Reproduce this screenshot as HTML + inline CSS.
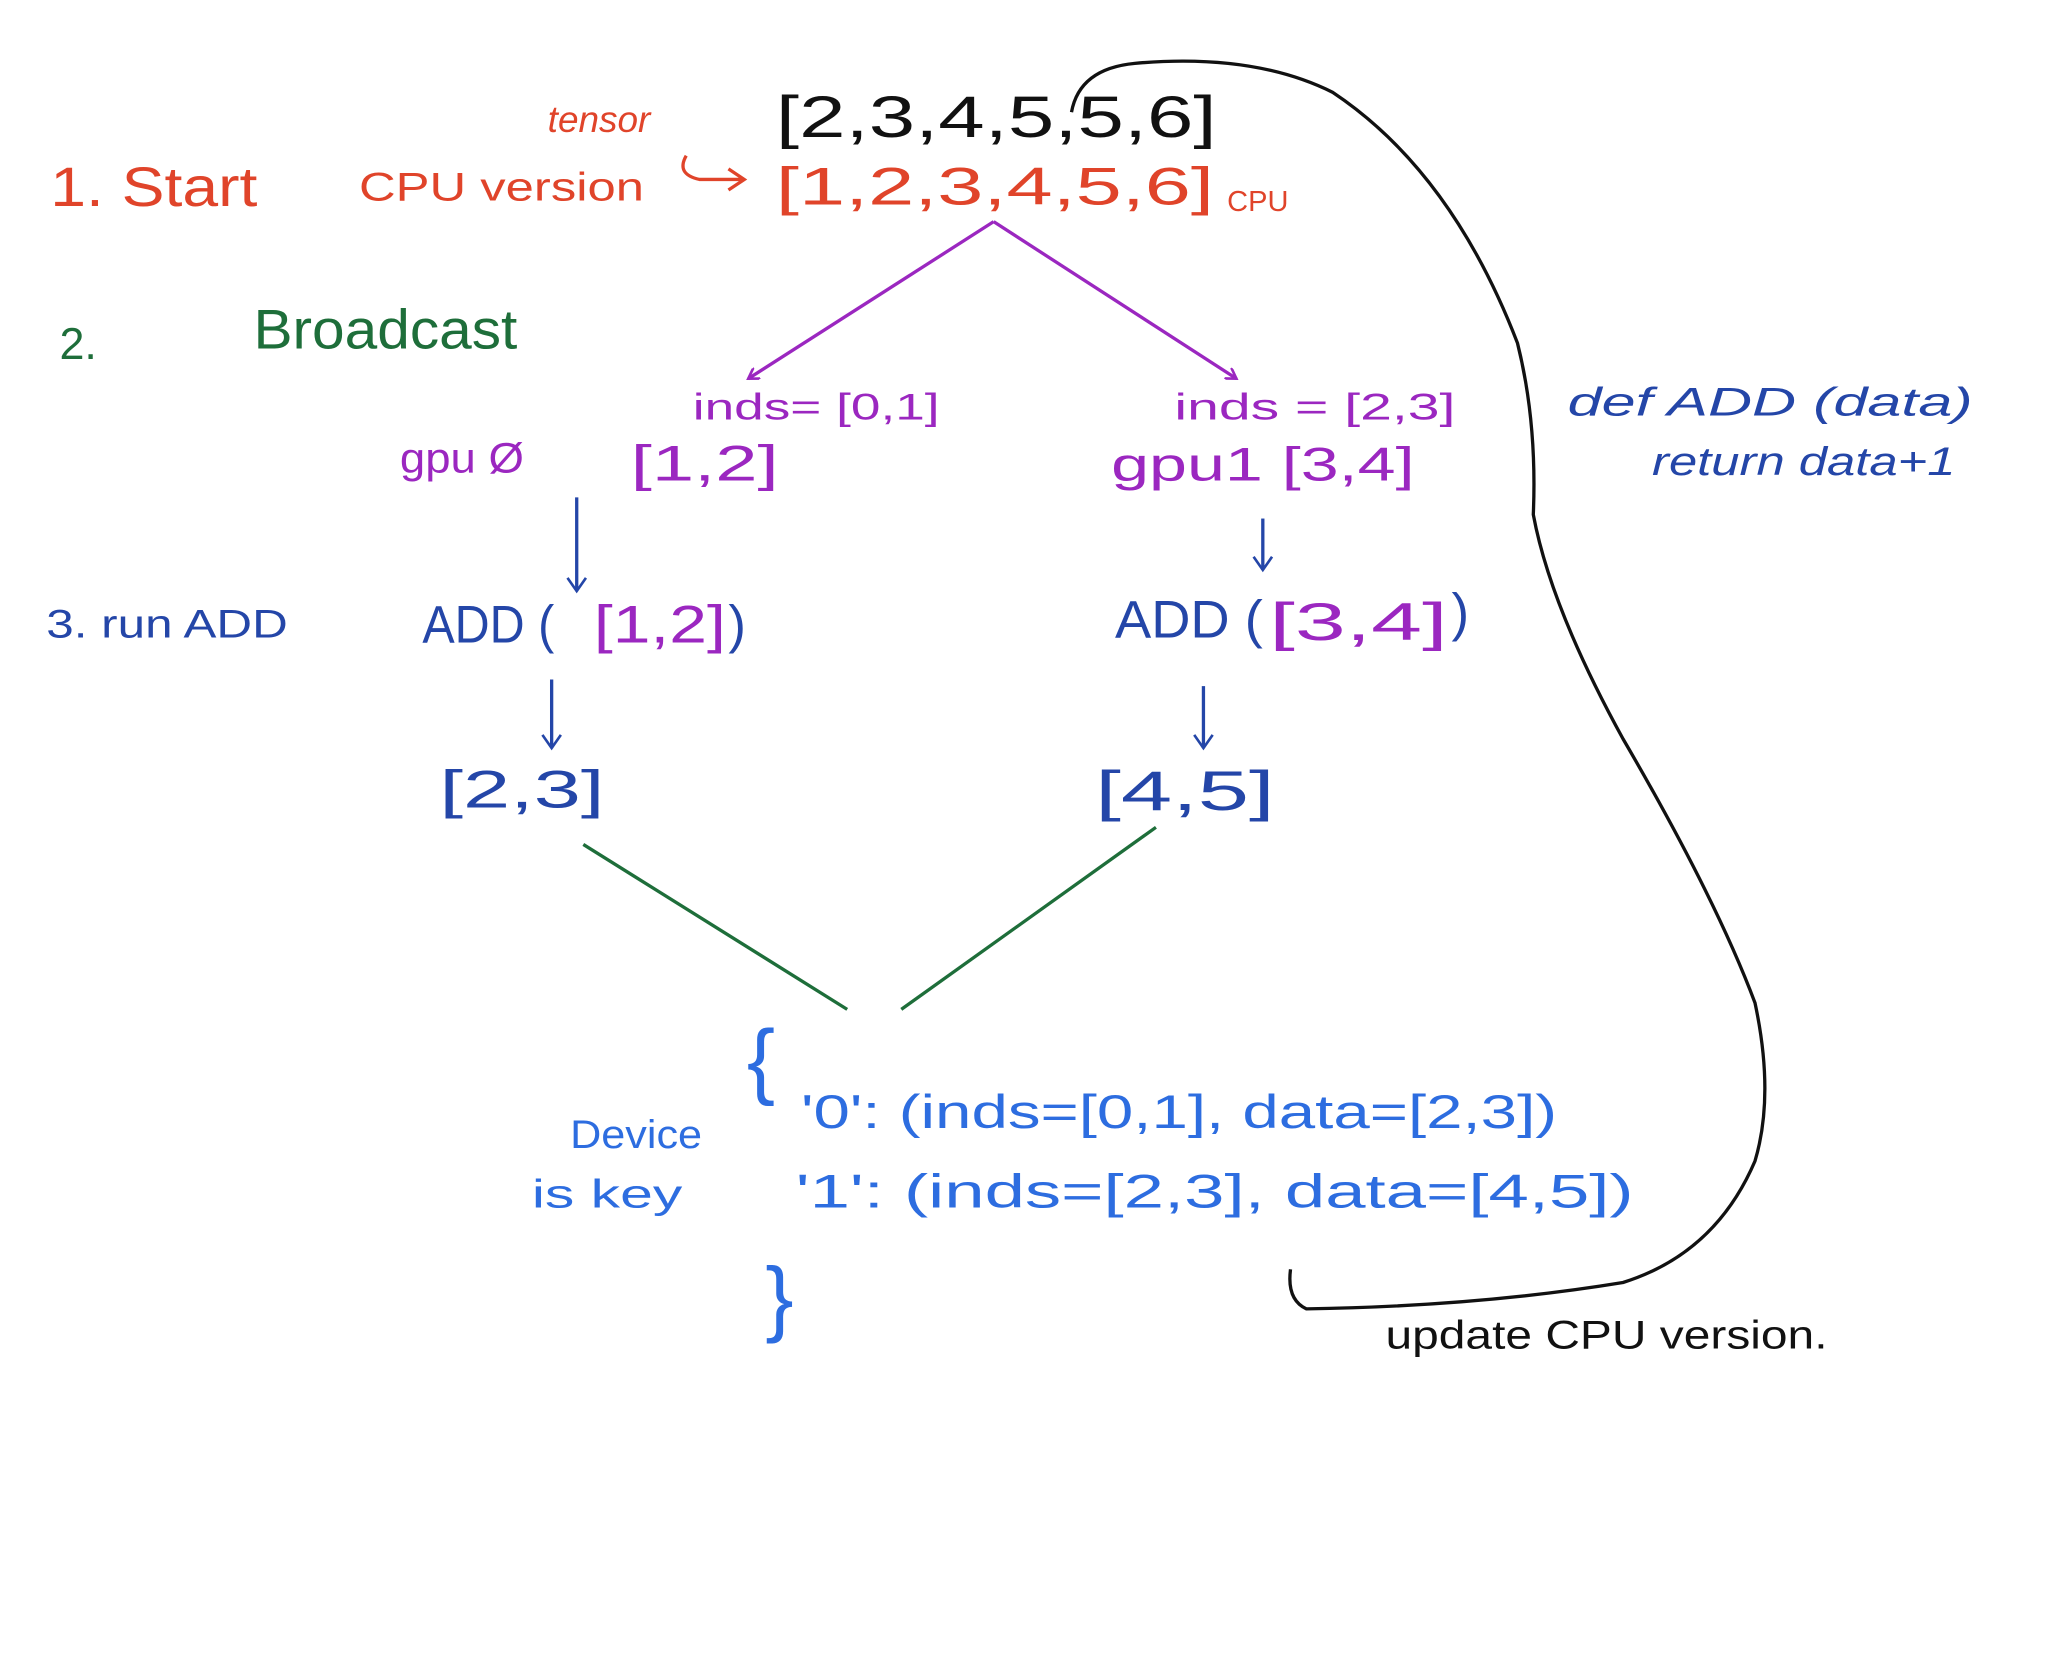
<!DOCTYPE html>
<html><head><style>
html,body{margin:0;padding:0;background:#fff;}
svg{display:block}
text{font-family:"Liberation Sans",sans-serif;}
</style></head><body>
<svg width="2048" height="1677" viewBox="0 0 1552 1271" xmlns="http://www.w3.org/2000/svg">
<defs>
<marker id="ap" markerWidth="10" markerHeight="10" refX="8" refY="5" orient="auto" markerUnits="userSpaceOnUse"><path d="M0,0 L8,5 L0,10" fill="none" stroke="#9b27c0" stroke-width="2"/></marker>
<marker id="ab" markerWidth="16" markerHeight="16" refX="8" refY="14" orient="0" markerUnits="userSpaceOnUse"><path d="M1,4 L8,14 L15,4" fill="none" stroke="#2446a8" stroke-width="2"/></marker>
</defs>
<rect width="1552" height="1271" fill="#fff"/>
<!-- red section -->
<text x="415" y="100" font-size="28" fill="#e0442a" font-style="italic">tensor</text>
<text x="588" y="104" font-size="44" fill="#111" textLength="334" lengthAdjust="spacingAndGlyphs">[2,3,4,5,5,6]</text>
<text x="38" y="156" font-size="42" fill="#e0442a" textLength="157" lengthAdjust="spacingAndGlyphs">1. Start</text>
<text x="272" y="152" font-size="30" fill="#e0442a" textLength="216" lengthAdjust="spacingAndGlyphs">CPU version</text>
<path d="M520,118 Q512,132 530,136 L562,136 M552,128 L564,136 L552,144" fill="none" stroke="#e0442a" stroke-width="2.5"/>
<text x="588" y="155" font-size="40" fill="#e0442a" textLength="332" lengthAdjust="spacingAndGlyphs">[1,2,3,4,5,6]</text>
<text x="930" y="160" font-size="22" fill="#e0442a">CPU</text>
<!-- purple arrows -->
<path d="M753,168 L567,287" stroke="#9b27c0" stroke-width="2.5" fill="none" marker-end="url(#ap)"/>
<path d="M753,168 L937,287" stroke="#9b27c0" stroke-width="2.5" fill="none" marker-end="url(#ap)"/>
<!-- green -->
<text x="45" y="272" font-size="34" fill="#1e6e3a">2.</text>
<text x="192" y="264" font-size="42" fill="#1e6e3a" textLength="200" lengthAdjust="spacingAndGlyphs">Broadcast</text>
<!-- purple labels -->
<text x="525" y="318" font-size="28" fill="#9b27c0" textLength="187" lengthAdjust="spacingAndGlyphs">inds= [0,1]</text>
<text x="890" y="318" font-size="28" fill="#9b27c0" textLength="213" lengthAdjust="spacingAndGlyphs">inds = [2,3]</text>
<text x="303" y="358" font-size="32" fill="#9b27c0" textLength="94" lengthAdjust="spacingAndGlyphs">gpu Ø</text>
<text x="478" y="364" font-size="38" fill="#9b27c0" textLength="112" lengthAdjust="spacingAndGlyphs">[1,2]</text>
<text x="842" y="364" font-size="36" fill="#9b27c0" textLength="230" lengthAdjust="spacingAndGlyphs">gpu1  [3,4]</text>
<!-- def ADD -->
<text x="1188" y="315" font-size="30" fill="#2446a8" font-style="italic" textLength="307" lengthAdjust="spacingAndGlyphs">def ADD    (data)</text>
<text x="1252" y="360" font-size="30" fill="#2446a8" font-style="italic" textLength="230" lengthAdjust="spacingAndGlyphs">return  data+1</text>
<!-- blue arrows -->
<path d="M437,377 L437,448" stroke="#2446a8" stroke-width="2.5" marker-end="url(#ab)"/>
<path d="M957,393 L957,432" stroke="#2446a8" stroke-width="2.5" marker-end="url(#ab)"/>
<text x="35" y="483" font-size="30" fill="#2446a8" textLength="183" lengthAdjust="spacingAndGlyphs">3. run  ADD</text>
<text x="320" y="487" font-size="40" fill="#2446a8" textLength="100" lengthAdjust="spacingAndGlyphs">ADD (</text>
<text x="450" y="487" font-size="40" fill="#9b27c0" textLength="100" lengthAdjust="spacingAndGlyphs">[1,2]</text>
<text x="552" y="487" font-size="40" fill="#2446a8">)</text>
<text x="845" y="483" font-size="40" fill="#2446a8" textLength="112" lengthAdjust="spacingAndGlyphs">ADD (</text>
<text x="962" y="485" font-size="40" fill="#9b27c0" textLength="135" lengthAdjust="spacingAndGlyphs">[3,4]</text>
<text x="1100" y="478" font-size="40" fill="#2446a8">)</text>
<path d="M418,515 L418,567" stroke="#2446a8" stroke-width="2.5" marker-end="url(#ab)"/>
<path d="M912,520 L912,567" stroke="#2446a8" stroke-width="2.5" marker-end="url(#ab)"/>
<text x="333" y="612" font-size="40" fill="#2446a8" textLength="125" lengthAdjust="spacingAndGlyphs">[2,3]</text>
<text x="830" y="614" font-size="42" fill="#2446a8" textLength="136" lengthAdjust="spacingAndGlyphs">[4,5]</text>
<!-- green lines -->
<path d="M442,640 L642,765 M876,627 L683,765" stroke="#1e6e3a" stroke-width="2.5" fill="none"/>
<!-- dict -->
<text x="566" y="825" font-size="64" fill="#2d6de0" font-weight="lighter">{</text>
<text x="580" y="1005" font-size="64" fill="#2d6de0">}</text>
<text x="607" y="855" font-size="36" fill="#2d6de0" textLength="573" lengthAdjust="spacingAndGlyphs">'0': (inds=[0,1], data=[2,3])</text>
<text x="603" y="915" font-size="36" fill="#2d6de0" textLength="635" lengthAdjust="spacingAndGlyphs">'1': (inds=[2,3], data=[4,5])</text>
<text x="432" y="870" font-size="30" fill="#2d6de0" textLength="100" lengthAdjust="spacingAndGlyphs">Device</text>
<text x="403" y="915" font-size="30" fill="#2d6de0" textLength="114" lengthAdjust="spacingAndGlyphs">is key</text>
<!-- black loop -->
<path d="M812,85 Q818,52 860,48 Q950,40 1010,70 Q1100,130 1150,260 Q1165,320 1162,390 Q1175,460 1230,560 Q1300,680 1330,760 Q1345,830 1330,880 Q1300,950 1230,972 Q1120,990 990,992 Q975,985 978,962" fill="none" stroke="#111" stroke-width="2.5"/>
<text x="1050" y="1022" font-size="30" fill="#111" textLength="335" lengthAdjust="spacingAndGlyphs">update  CPU  version.</text>
</svg>
</body></html>
